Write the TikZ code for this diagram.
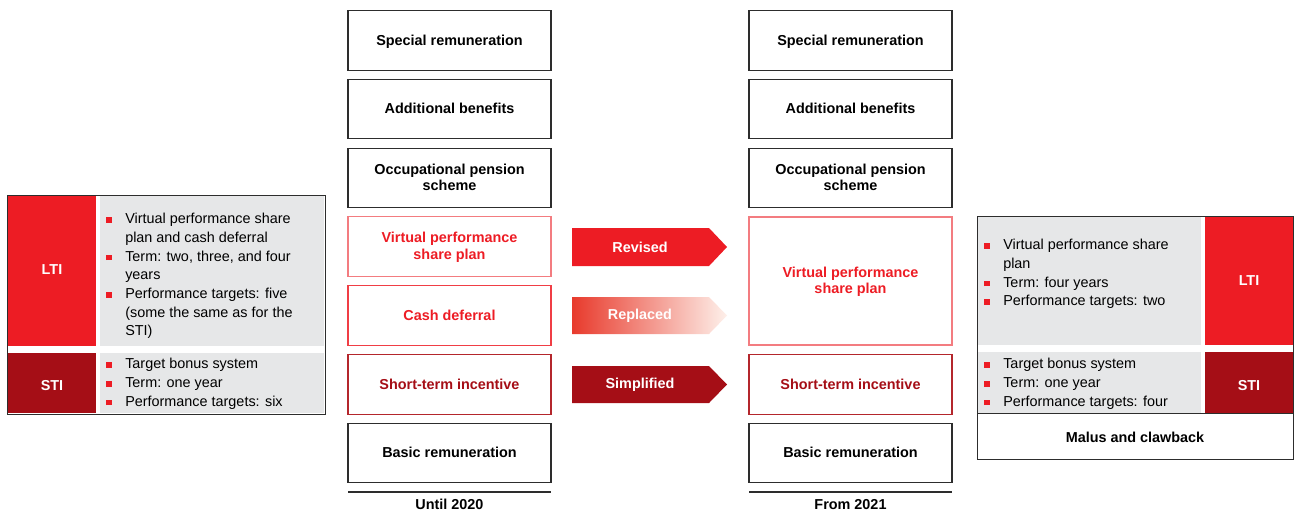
\documentclass[tikz,border=0pt]{standalone}
\usepackage{fontspec}
\setmainfont{Liberation Sans}
\definecolor{brand}{RGB}{237,28,36}
\definecolor{deepred}{RGB}{165,14,22}
\definecolor{panelgrey}{RGB}{230,231,232}
\definecolor{boxline}{RGB}{45,45,45}
\definecolor{softline}{RGB}{243,124,128}
\definecolor{stiline}{RGB}{180,38,44}
\definecolor{fadeA}{RGB}{232,58,44}
\definecolor{fadeB}{RGB}{254,240,234}
% red square bullet and hanging indent for the item lists
\newcommand\sqbullet{\makebox[14.25pt][l]{\textcolor{brand}{\rule[0.06em]{4.2pt}{4.2pt}}}}
\newcommand\hang{\hspace*{14.25pt}}
\begin{document}
\begin{tikzpicture}[x=0.75pt,y=-0.75pt,
  comp/.style={draw=boxline, line width=0.9pt, minimum width=152.25pt,
    minimum height=44.6pt, inner sep=2pt, align=center, text depth=0.1em,
    font=\bfseries\fontsize{10.8}{12.2}\selectfont},
  vpsp/.style={comp, draw=softline, text=brand},
  cash/.style={comp, draw=brand!85, text=brand},
  sti/.style={comp, draw=stiline, text=deepred},
  tag/.style={text=white, font=\bfseries\fontsize{10.8}{12}\selectfont},
  items/.style={anchor=north west, inner sep=0pt, align=left,
    font=\fontsize{10.8}{14}\selectfont},
  frame/.style={draw=boxline, line width=0.6pt},
  baseline rule/.style={draw=boxline, line width=1pt},
  caption/.style={anchor=base, font=\bfseries\fontsize{10.8}{12}\selectfont}]
\useasboundingbox (0,0) rectangle (1294,511);

% ---- left panel: STI / LTI until 2020
\draw[frame] (7,195) rectangle (325,414);
\fill[brand] (8,196) rectangle (96,346);
\fill[deepred] (8,353) rectangle (96,413);
\fill[panelgrey] (100,196) rectangle (324,346);
\fill[panelgrey] (100,353) rectangle (324,413);
\node[tag] (ltiOld) at (52,270) {LTI};
\node[tag] (stiOld) at (52,386) {STI};
\node[items] (ltiOldList) at (106,213) {%
  \sqbullet Virtual performance share\\
  \hang plan and cash deferral\\
  \sqbullet Term: two, three, and four\\
  \hang years\\
  \sqbullet Performance targets: five\\
  \hang (some the same as for the\\
  \hang STI)};
\node[items] (stiOldList) at (106,358) {%
  \sqbullet Target bonus system\\
  \sqbullet Term: one year\\
  \sqbullet Performance targets: six};

% ---- column until 2020
\node[comp] (oSpecial) at (449.5,40.5) {Special remuneration};
\node[comp] (oBenefits) at (449.5,109) {Additional benefits};
\node[comp] (oPension) at (449.5,178) {Occupational pension\\scheme};
\node[vpsp] (oVpsp) at (449.5,246.5) {Virtual performance\\share plan};
\node[cash] (oCash) at (449.5,315.5) {Cash deferral};
\node[sti] (oSti) at (449.5,384.5) {Short-term incentive};
\node[comp] (oBasic) at (449.5,453) {Basic remuneration};
\coordinate (oRuleL) at (348,492);
\coordinate (oRuleR) at (551,492);
\draw[baseline rule] (oRuleL) -- (oRuleR);
\node[caption] (oCaption) at (449.5,509.5) {Until 2020};

% ---- column from 2021
\node[comp] (nSpecial) at (850.5,40.5) {Special remuneration};
\node[comp] (nBenefits) at (850.5,109) {Additional benefits};
\node[comp] (nPension) at (850.5,178) {Occupational pension\\scheme};
\node[vpsp, minimum height=96pt] (nVpsp) at (850.5,281) {Virtual performance\\share plan};
\node[sti] (nSti) at (850.5,384.5) {Short-term incentive};
\node[comp] (nBasic) at (850.5,453) {Basic remuneration};
\coordinate (nRuleL) at (749,492);
\coordinate (nRuleR) at (952,492);
\draw[baseline rule] (nRuleL) -- (nRuleR);
\node[caption] (nCaption) at (850.5,509.5) {From 2021};

% ---- change arrows
\fill[brand] (572,228) -- (709,228) -- (727,247) -- (709,266) -- (572,266) -- cycle;
\node[tag] (revised) at (640,247) {Revised};
\shade[left color=fadeA, right color=fadeB]
  (572,297) -- (709,297) -- (727,315.5) -- (709,334) -- (572,334) -- cycle;
\node[tag, text=white!95!fadeB] (replaced) at (640,315.5) {Replaced};
\fill[deepred] (572,366) -- (709,366) -- (727,384.5) -- (709,403) -- (572,403) -- cycle;
\node[tag] (simplified) at (640,384.5) {Simplified};

% ---- right panel: LTI / STI from 2021
\draw[frame] (977,216) rectangle (1293,459);
\fill[panelgrey] (978,217) rectangle (1201,345);
\fill[brand] (1205,217) rectangle (1292.5,345);
\fill[panelgrey] (978,352) rectangle (1201,413);
\fill[deepred] (1205,352) rectangle (1292.5,413);
\draw[frame] (977,413) -- (1293,413);
\node[tag] (ltiNew) at (1249,281) {LTI};
\node[tag] (stiNew) at (1249,386) {STI};
\node[items] (ltiNewList) at (984,239) {%
  \sqbullet Virtual performance share\\
  \hang plan\\
  \sqbullet Term: four years\\
  \sqbullet Performance targets: two};
\node[items] (stiNewList) at (984,358) {%
  \sqbullet Target bonus system\\
  \sqbullet Term: one year\\
  \sqbullet Performance targets: four};
\node[font=\bfseries\fontsize{10.8}{12}\selectfont] (malus) at (1135,437) {Malus and clawback};
\end{tikzpicture}
\end{document}
